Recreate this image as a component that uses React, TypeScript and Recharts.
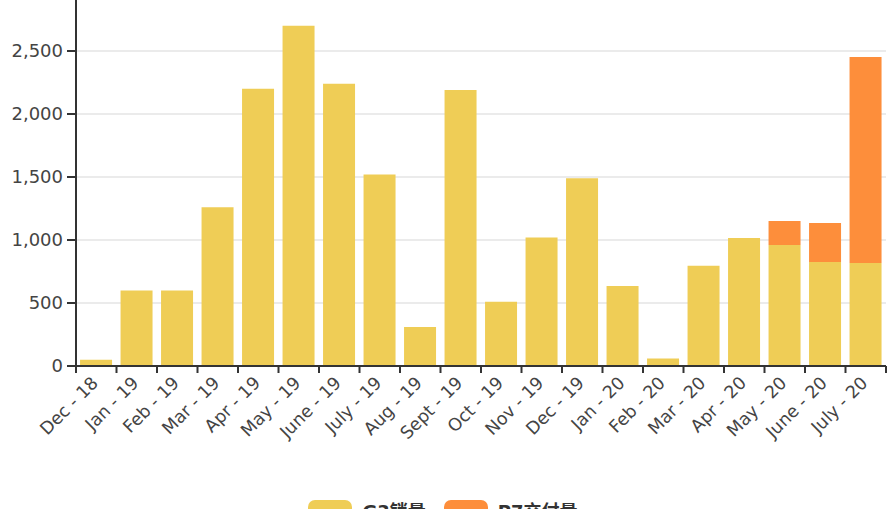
import React from 'react';
import { BarChart, Bar, XAxis, YAxis, CartesianGrid, Legend } from 'recharts';

// monthly figures
const months = [
  'Dec - 18', 'Jan - 19', 'Feb - 19', 'Mar - 19', 'Apr - 19', 'May - 19', 'June - 19',
  'July - 19', 'Aug - 19', 'Sept - 19', 'Oct - 19', 'Nov - 19', 'Dec - 19', 'Jan - 20',
  'Feb - 20', 'Mar - 20', 'Apr - 20', 'May - 20', 'June - 20', 'July - 20',
];
const g3Sales = [50, 600, 600, 1260, 2200, 2700, 2240, 1520, 310, 2190, 510, 1020, 1490, 635, 60, 795, 1015, 960, 825, 817];
const p7Deliveries = [null, null, null, null, null, null, null, null, null, null, null, null, null, null, null, null, null, 190, 310, 1635];
const yTicks = [0, 500, 1000, 1500, 2000, 2500, 3000];

const seriesNames = ['G3销量', 'P7交付量'];
const YELLOW = '#EFCD56';
const ORANGE = '#FD8E3B';
const FONT = '"DejaVu Sans", "Noto Sans CJK SC", sans-serif';

const data = months.map((m, i) => ({ month: m, g3: g3Sales[i], p7: p7Deliveries[i] }));

const STEP = 810 / months.length;

function MonthTick(props: any) {
  const { x, y, payload, index } = props;
  const last = index === months.length - 1;
  return (
    <g>
      <line x1={x - STEP / 2} x2={x - STEP / 2} y1={y - 7} y2={y} stroke="#333" strokeWidth={2} />
      {last && <line x1={x + STEP / 2} x2={x + STEP / 2} y1={y - 7} y2={y} stroke="#333" strokeWidth={2} />}
      <text
        x={x + 3}
        y={y + 11}
        textAnchor="end"
        fill="#444"
        fontSize={17.5}
        fontFamily={FONT}
        transform={`rotate(-45, ${x + 3}, ${y + 11})`}
      >
        {payload.value}
      </text>
    </g>
  );
}

function renderLegend() {
  const colors = [YELLOW, ORANGE];
  return (
    <div style={{ display: 'flex', justifyContent: 'center', gap: 18, fontFamily: FONT, marginTop: -3 }}>
      {seriesNames.map((n, i) => (
        <div key={n} style={{ display: 'flex', alignItems: 'center' }}>
          <span style={{ width: 44, height: 20, borderRadius: 7, background: colors[i], display: 'inline-block', marginRight: 10 }} />
          <span style={{ fontSize: 18, fontWeight: 'bold', color: '#333' }}>{n}</span>
        </div>
      ))}
    </div>
  );
}

export default function App() {
  return (
    <div style={{ position: 'absolute', left: 0, top: 0, width: 894, height: 509, overflow: 'hidden', background: '#fff' }}>
      <div style={{ position: 'relative', top: -20 }}>
        <BarChart
          width={894}
          height={550}
          data={data}
          margin={{ top: 8, right: 8, left: 0, bottom: 0 }}
          barCategoryGap="10%"
        >
          <CartesianGrid vertical={false} stroke="#e4e4e4" strokeWidth={1.5} />
          <XAxis
            dataKey="month"
            interval={0}
            height={134}
            tickLine={false}
            tickSize={7}
            tickMargin={0}
            axisLine={{ stroke: '#333', strokeWidth: 2 }}
            tick={<MonthTick />}
          />
          <YAxis
            width={76}
            domain={[0, 3000]}
            ticks={yTicks}
            interval={0}
            tickSize={9}
            tickMargin={4}
            tickFormatter={(v: number) => v.toLocaleString('en-US')}
            axisLine={{ stroke: '#333', strokeWidth: 2 }}
            tickLine={{ stroke: '#333', strokeWidth: 2 }}
            tick={{ fill: '#444', fontSize: 18, fontFamily: FONT }}
          />
          <Legend verticalAlign="bottom" height={30} content={renderLegend} />
          <Bar dataKey="g3" name={seriesNames[0]} stackId="a" fill={YELLOW} isAnimationActive={false} />
          <Bar dataKey="p7" name={seriesNames[1]} stackId="a" fill={ORANGE} isAnimationActive={false} />
        </BarChart>
      </div>
    </div>
  );
}
